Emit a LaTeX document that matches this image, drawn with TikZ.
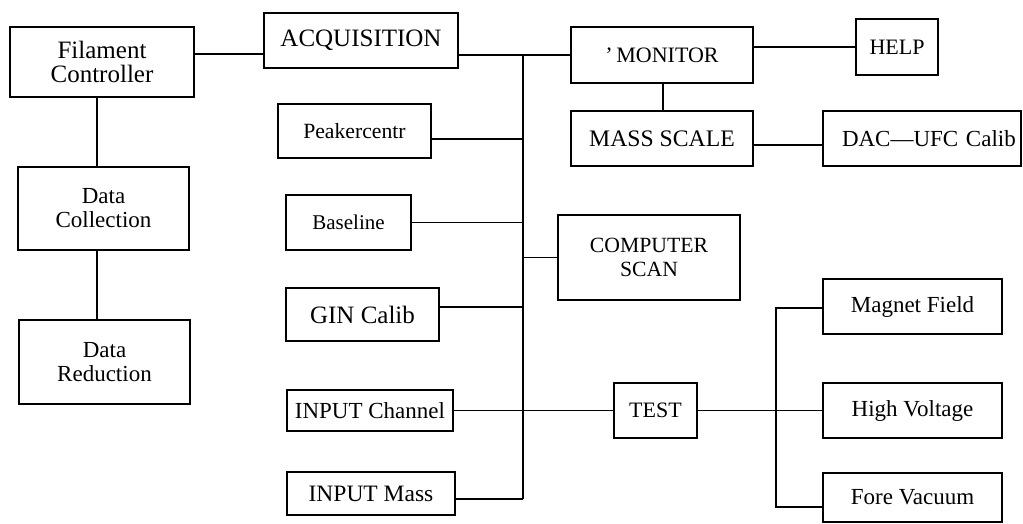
\documentclass[tikz,border=0pt]{standalone}
\usepackage{fontspec}
\setmainfont{Liberation Serif}
\begin{document}
\begin{tikzpicture}[x=1pt,y=-1pt,
  box/.style={draw, line width=1.8pt, inner sep=0pt, align=center,
    font=\fontsize{23}{24}\selectfont},
  fs/.style={font=\fontsize{#1}{24}\selectfont},
  conn/.style={line width=1.8pt}]
\useasboundingbox (0,0) rectangle (1023,523);
% left column
\node[box, fs=25, minimum width=184pt, minimum height=70pt] (fil) at (102,62) {Filament\\Controller};
\node[box, minimum width=171pt, minimum height=83pt] (dcol) at (103.5,208.5) {Data\\Collection};
\node[box, minimum width=171pt, minimum height=84pt] (dred) at (104.5,362) {Data\\Reduction};
% second column
\node[box, fs=25, minimum width=194pt, minimum height=55pt] (acq) at (361,40.5) {ACQUISITION};
\node[box, fs=21.7, minimum width=153pt, minimum height=54pt] (peak) at (354.5,131) {Peakercentr};
\node[box, fs=21, minimum width=125pt, minimum height=55pt] (base) at (348.5,222.5) {Baseline};
\node[box, fs=25, minimum width=153pt, minimum height=53pt] (gin) at (362.5,314.5) {GIN Calib};
\node[box, minimum width=166pt, minimum height=41pt] (inch) at (370,410.5) {INPUT Channel};
\node[box, fs=23.5, minimum width=168pt, minimum height=43pt] (inm) at (371,493.5) {INPUT Mass};
% third column
\node[box, fs=22, minimum width=182pt, minimum height=56pt] (mon) at (662,55) {'\,MONITOR};
\node[box, fs=23.7, minimum width=182pt, minimum height=55pt] (mass) at (662,138.5) {MASS SCALE};
\node[box, fs=21.7, minimum width=182pt, minimum height=85pt] (cscan) at (649,257.5) {COMPUTER\\SCAN};
\node[box, fs=22, minimum width=83pt, minimum height=55pt] (test) at (655.5,410.5) {TEST};
% right column
\node[box, fs=22, minimum width=82pt, minimum height=56pt] (help) at (897,47) {HELP};
\node[box, minimum width=198pt, minimum height=55pt, text width=190pt, align=left] (dac) at (922,138.5) {\hspace*{15pt}DAC—UFC Calib};
\node[box, minimum width=179pt, minimum height=55pt] (mag) at (912.5,306.5) {Magnet Field};
\node[box, minimum width=179pt, minimum height=55pt] (hv) at (912.5,410.5) {High Voltage};
\node[box, minimum width=179pt, minimum height=49pt] (fv) at (912.5,497.5) {Fore Vacuum};
% helper coordinates
\coordinate (ya) at (0,54);
\coordinate (xl) at (97,0);
\coordinate (bustop) at (523,55);
\coordinate (busbot) at (523,499);
\coordinate (yp) at (0,139);
\coordinate (yg) at (0,307);
\coordinate (yh) at (0,47);
\coordinate (xm) at (663,0);
\coordinate (yd) at (0,145);
\coordinate (ttop) at (776,308);
\coordinate (tbot) at (776,507);
% connectors
\draw[conn] (fil.east |- ya) -- (acq.west |- ya);
\draw[conn] (fil.south -| xl) -- (dcol.north -| xl);
\draw[conn] (dcol.south -| xl) -- (dred.north -| xl);
\draw[conn] (acq.east |- bustop) -- (mon.west);
\draw[conn] (bustop) -- (busbot);
\draw[conn] (peak.east |- yp) -- (bustop |- yp);
\draw[conn] (base.east) -- (bustop |- base.east);
\draw[conn] (bustop |- cscan.west) -- (cscan.west);
\draw[conn] (gin.east |- yg) -- (bustop |- yg);
\draw[conn] (inch.east) -- (test.west);
\draw[conn] (inm.east |- busbot) -- (busbot);
\draw[conn] (mon.east |- yh) -- (help.west |- yh);
\draw[conn] (mon.south -| xm) -- (mass.north -| xm);
\draw[conn] (mass.east |- yd) -- (dac.west |- yd);
\draw[conn] (test.east) -- (hv.west);
\draw[conn] (mag.west |- ttop) -- (ttop) -- (tbot) -- (fv.west |- tbot);
\end{tikzpicture}
\end{document}
